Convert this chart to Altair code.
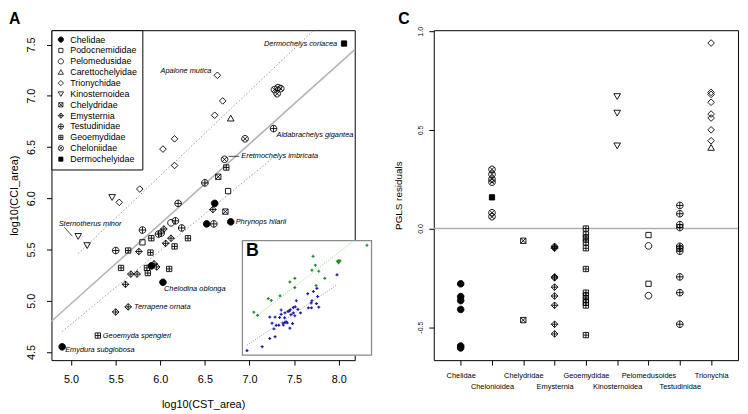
import altair as alt
import pandas as pd

FONT = "Liberation Sans"

families = ["Chelidae", "Podocnemididae", "Pelomedusidae", "Carettochelyidae",
            "Trionychidae", "Kinosternoidea", "Chelydridae", "Emysternia",
            "Testudinidae", "Geoemydidae", "Cheloniidae", "Dermochelyidae"]

# ---- Panel A: log10(CST_area) (x) vs log10(CCI_area) (y), per family
chelidae_x = [4.90, 5.90, 6.03, 6.61, 6.52, 6.79]
chelidae_y = [4.55, 5.34, 5.18, 5.95, 5.75, 5.77]
podocnemididae_x = [5.80, 6.76]
podocnemididae_y = [5.57, 6.07]
pelomedusidae_x = [6.12]
pelomedusidae_y = [5.76]
carettochelyidae_x = [6.79]
carettochelyidae_y = [6.78]
trionychidae_x = [5.54, 5.77, 6.16, 6.03, 6.16, 6.61, 6.70, 6.64]
trionychidae_y = [5.96, 6.09, 6.32, 6.48, 6.58, 6.81, 6.95, 7.20]
kinosternoidea_x = [5.46, 5.08, 5.18]
kinosternoidea_y = [6.01, 5.63, 5.54]
chelydridae_x = [6.73, 6.65]
chelydridae_y = [5.87, 6.21]
emysternia_x = [5.64, 5.50, 5.61, 5.67, 5.74, 5.93, 5.96, 5.76, 6.04, 6.12, 6.06, 6.59]
emysternia_y = [4.94, 4.89, 5.16, 5.26, 5.26, 5.36, 5.33, 5.48, 5.70, 5.61, 5.56, 5.89]
testudinidae_x = [5.50, 5.80, 5.98, 6.01, 6.17, 6.24, 6.20, 6.50, 7.27, 6.60]
testudinidae_y = [5.49, 5.69, 5.65, 5.66, 5.78, 5.71, 5.95, 6.15, 6.68, 5.75]
geoemydidae_x = [5.30, 5.56, 5.85, 5.86, 6.10, 5.64, 5.89, 5.90, 6.16, 6.31, 6.74]
geoemydidae_y = [4.66, 5.32, 5.32, 5.27, 5.31, 5.49, 5.47, 5.61, 5.53, 5.61, 6.30]
cheloniidae_x = [6.95, 6.72, 7.28, 7.32, 7.35, 7.31]
cheloniidae_y = [6.58, 6.38, 7.06, 7.08, 7.07, 7.02]
dermochelyidae_x = [8.06]
dermochelyidae_y = [7.51]

# families drawn in green in inset B (the rest are blue)
green_families = ["Carettochelyidae", "Trionychidae", "Kinosternoidea",
                  "Cheloniidae", "Dermochelyidae"]

# regression lines (end points, data units)
fit_all_x = [4.78, 8.18]
fit_all_y = [4.80, 7.45]
fit_green_x = [5.08, 7.72]
fit_green_y = [5.46, 7.64]
fit_blue_x = [4.90, 7.27]
fit_blue_y = [4.70, 6.40]

x_ticks = [5.0, 5.5, 6.0, 6.5, 7.0, 7.5, 8.0]
y_ticks = [4.5, 5.0, 5.5, 6.0, 6.5, 7.0, 7.5]

# species annotations
ann_names = ["Dermochelys coriacea", "Apalone mutica", "Aldabrachelys gigantea",
             "Eretmochelys imbricata", "Phrynops hilarii", "Chelodina oblonga",
             "Terrapene ornata", "Geoemyda spengleri", "Emydura subglobosa",
             "Sternotherus minor"]
ann_x = [8.06, 6.64, 7.27, 6.72, 6.79, 6.03, 5.64, 5.30, 4.90, 5.08]
ann_y = [7.51, 7.20, 6.68, 6.38, 5.77, 5.18, 4.94, 4.66, 4.55, 5.63]
ann_dx = [-7, -6, 3, 17, 5, 1, 6, 5, 3, 12]
ann_dy = [0, -4, 7, -3, 0, 7, 0, 0, 3, -12]
ann_align = ["right", "right", "left", "left", "left", "left", "left", "left", "left", "center"]

# ---- Panel C: PGLS residuals per clade
groups = ["Chelidae", "Chelonioidea", "Chelydridae", "Emysternia", "Geoemydidae",
          "Kinosternoidea", "Pelomedusoides", "Testudinidae", "Trionychia"]
res_chelidae = [-0.28, -0.345, -0.365, -0.41, -0.595, -0.605]
res_cheloniidae = [0.30, 0.275, 0.25, 0.235, 0.08, 0.06]
res_dermochelyidae = [0.158]
res_chelydridae = [-0.062, -0.464]
res_emysternia = [-0.09, -0.095, -0.10, -0.245, -0.25, -0.297, -0.342, -0.389, -0.485, -0.534]
res_geoemydidae = [0.0, -0.03, -0.05, -0.07, -0.10, -0.205, -0.325, -0.34, -0.36, -0.375, -0.39, -0.54]
res_kinosternoidea = [0.67, 0.586, 0.42]
res_podocnemididae = [-0.033, -0.28]
res_pelomedusidae = [-0.088, -0.34]
res_testudinidae = [0.117, 0.075, 0.02, 0.005, -0.09, -0.10, -0.115, -0.245, -0.325, -0.485]
res_trionychidae = [0.94, 0.69, 0.68, 0.64, 0.58, 0.56, 0.50, 0.445]
res_carettochelyidae = [0.41]
c_ticks = [-0.5, 0.0, 0.5, 1.0]

# ---- symbols (R-like pch)
CIRC = "M0,-1A1,1,0,1,1,0,1A1,1,0,1,1,0,-1Z"
SQ = "M-0.8,-0.8H0.8V0.8H-0.8Z"
DIA = "M0,-1L1,0L0,1L-1,0Z"
PLUS = "M-1,0H1M0,-1V1"
shape_paths = [
    CIRC,                                   # Chelidae (filled)
    SQ,                                     # Podocnemididae
    CIRC,                                   # Pelomedusidae
    "M0,-0.95L1,0.8L-1,0.8Z",               # Carettochelyidae
    DIA,                                    # Trionychidae
    "M-1,-0.8L1,-0.8L0,0.95Z",              # Kinosternoidea
    SQ + "M-0.8,-0.8L0.8,0.8M0.8,-0.8L-0.8,0.8",   # Chelydridae
    DIA + PLUS,                             # Emysternia
    CIRC + PLUS,                            # Testudinidae
    SQ + "M-0.8,0H0.8M0,-0.8V0.8",          # Geoemydidae
    CIRC + "M-0.7,-0.7L0.7,0.7M0.7,-0.7L-0.7,0.7",  # Cheloniidae
    SQ,                                     # Dermochelyidae (filled)
]
fill_colors = ["black" if f in ("Chelidae", "Dermochelyidae") else "transparent" for f in families]
stroke_colors = ["black"] * len(families)

fam_x = [chelidae_x, podocnemididae_x, pelomedusidae_x, carettochelyidae_x, trionychidae_x,
         kinosternoidea_x, chelydridae_x, emysternia_x, testudinidae_x, geoemydidae_x,
         cheloniidae_x, dermochelyidae_x]
fam_y = [chelidae_y, podocnemididae_y, pelomedusidae_y, carettochelyidae_y, trionychidae_y,
         kinosternoidea_y, chelydridae_y, emysternia_y, testudinidae_y, geoemydidae_y,
         cheloniidae_y, dermochelyidae_y]
rows = []
for fam, xs, ys in zip(families, fam_x, fam_y):
    for xv, yv in zip(xs, ys):
        rows.append({"family": fam, "x": xv, "y": yv, "green": fam in green_families})
a_df = pd.DataFrame(rows)

line_df = pd.DataFrame(
    [{"line": "all", "x": xv, "y": yv} for xv, yv in zip(fit_all_x, fit_all_y)]
    + [{"line": "green", "x": xv, "y": yv} for xv, yv in zip(fit_green_x, fit_green_y)]
    + [{"line": "blue", "x": xv, "y": yv} for xv, yv in zip(fit_blue_x, fit_blue_y)]
)

c_rows = []
def add(group, fam, vals):
    for v in vals:
        c_rows.append({"group": group, "family": fam, "res": v})
add("Chelidae", "Chelidae", res_chelidae)
add("Chelonioidea", "Cheloniidae", res_cheloniidae)
add("Chelonioidea", "Dermochelyidae", res_dermochelyidae)
add("Chelydridae", "Chelydridae", res_chelydridae)
add("Emysternia", "Emysternia", res_emysternia)
add("Geoemydidae", "Geoemydidae", res_geoemydidae)
add("Kinosternoidea", "Kinosternoidea", res_kinosternoidea)
add("Pelomedusoides", "Podocnemididae", res_podocnemididae)
add("Pelomedusoides", "Pelomedusidae", res_pelomedusidae)
add("Testudinidae", "Testudinidae", res_testudinidae)
add("Trionychia", "Trionychidae", res_trionychidae)
add("Trionychia", "Carettochelyidae", res_carettochelyidae)
c_df = pd.DataFrame(c_rows)

one = pd.DataFrame({"k": [0]})

# ---- layout
W_A, H_A = 307, 334
W_C, H_C = 308, 334
XD = [4.78, 8.18]
YD = [4.42, 7.64]

xA = alt.X("x:Q", scale=alt.Scale(domain=XD, nice=False, zero=False),
           axis=alt.Axis(values=x_ticks, format=".1f", labelFontSize=11, labelPadding=9,
                         title="log10(CST_area)", titleFontSize=11, titleX=W_A / 2, titleY=45,
                         titleBaseline="middle", titleAlign="center"))
yA = alt.Y("y:Q", scale=alt.Scale(domain=YD, nice=False, zero=False),
           axis=alt.Axis(values=y_ticks, format=".1f", labelFontSize=11, labelAngle=270,
                         labelAlign="center", labelBaseline="middle", labelPadding=15,
                         title="log10(CCI_area)", titleFontSize=11, titleAngle=270,
                         titleX=-37, titleY=H_A / 2, titleBaseline="middle", titleAlign="center"))

legend = alt.Legend(title=None, orient="top-left", offset=0, padding=5,
                    strokeColor="black", fillColor="white", cornerRadius=0,
                    labelFont=FONT, labelFontSize=9, labelColor="black",
                    symbolSize=28, symbolStrokeColor="black", symbolStrokeWidth=0.8,
                    rowPadding=1.0, labelOffset=5)

a_lines = alt.layer(
    alt.Chart(line_df).transform_filter("datum.line == 'all'")
    .mark_line(color="#b5b5b5", strokeWidth=1.6).encode(x=xA, y=yA),
    alt.Chart(line_df).transform_filter("datum.line != 'all'")
    .mark_line(color="#9a9a9a", strokeWidth=1, strokeDash=[1.5, 2])
    .encode(x=xA, y=yA, detail="line:N"),
)

a_points = alt.Chart(a_df).mark_point(size=45, strokeWidth=0.9, opacity=1).encode(
    x=xA, y=yA,
    shape=alt.Shape("family:N", scale=alt.Scale(domain=families, range=shape_paths), legend=legend),
    fill=alt.Fill("family:N", scale=alt.Scale(domain=families, range=fill_colors), legend=legend),
    stroke=alt.Stroke("family:N", scale=alt.Scale(domain=families, range=stroke_colors), legend=legend),
)

ann_layers = []
for name, ax, ay, dx, dy, al in zip(ann_names, ann_x, ann_y, ann_dx, ann_dy, ann_align):
    ann_layers.append(
        alt.Chart(pd.DataFrame({"x": [ax], "y": [ay], "t": [name]}))
        .mark_text(font=FONT, fontSize=7.5, fontStyle="italic", align=al, baseline="middle",
                   dx=dx, dy=dy, color="black")
        .encode(x=xA, y=yA, text="t:N")
    )

# leader lines
lead_df = pd.DataFrame({"x": [6.72], "y": [6.38]})
leader1 = alt.Chart(lead_df).mark_rule(color="black", strokeWidth=0.7, xOffset=4, x2Offset=15,
                                       yOffset=-3, y2Offset=-3).encode(x=xA, y=yA, x2="x:Q", y2="y:Q")
lead_df2 = pd.DataFrame({"x": [5.08], "y": [5.63]})
leader2 = alt.Chart(lead_df2).mark_rule(color="black", strokeWidth=0.7, xOffset=-14, x2Offset=-6,
                                        yOffset=-9, y2Offset=0).encode(x=xA, y=yA, x2="x:Q", y2="y:Q")

label_A = alt.Chart(one).mark_text(text="A", font=FONT, fontSize=16, fontWeight="bold",
                                   align="left", baseline="top", color="black").encode(
    x=alt.value(-43), y=alt.value(-19))

a_inner = alt.layer(a_lines, a_points, *ann_layers, leader1, leader2, label_A)

# ---- inset B (same data, smaller scales)
xB = alt.X("x:Q", scale=alt.Scale(domain=XD, nice=False, zero=False, range=[193.3, 324]), axis=None)
yB = alt.Y("y:Q", scale=alt.Scale(domain=YD, nice=False, zero=False, range=[329, 213]), axis=None)

b_box = alt.Chart(one).mark_rect(fill="white", stroke="#8a8a8a", strokeWidth=1.3).encode(
    x=alt.value(193.3), x2=alt.value(324), y=alt.value(213), y2=alt.value(329))
b_gline = alt.Chart(line_df).transform_filter("datum.line == 'green'").mark_line(
    color="#7fe07f", strokeWidth=1, strokeDash=[1, 1.5]).encode(x=xB, y=yB)
b_bline = alt.Chart(line_df).transform_filter("datum.line == 'blue'").mark_line(
    color="#8c8cff", strokeWidth=1, strokeDash=[1, 1.5]).encode(x=xB, y=yB)
b_gpts = alt.Chart(a_df).transform_filter("datum.green").mark_point(
    shape="cross", filled=True, size=9, color="#1f8a2a", opacity=1).encode(x=xB, y=yB)
b_bpts = alt.Chart(a_df).transform_filter("!datum.green").mark_point(
    shape="cross", filled=True, size=9, color="#1c1ca0", opacity=1).encode(x=xB, y=yB)
label_B = alt.Chart(one).mark_text(text="B", font=FONT, fontSize=18, fontWeight="bold",
                                   align="left", baseline="top", color="black").encode(
    x=alt.value(197), y=alt.value(215))
b_inner = alt.layer(b_box, b_bline, b_gline, b_bpts, b_gpts, label_B)

panel_a = alt.layer(a_inner, b_inner).resolve_scale(x="independent", y="independent").properties(
    width=W_A, height=H_A)

# ---- panel C
row2 = "['Chelonioidea','Emysternia','Kinosternoidea','Testudinidae']"
xC = alt.X("group:N", sort=groups, scale=alt.Scale(type="point", padding=0.86, domain=groups),
           axis=alt.Axis(title=None, labelAngle=0, labelFontSize=7.5, labelAlign="center",
                         labelBaseline="top",
                         labelPadding={"condition": {"test": "indexof(" + row2 + ", datum.value) >= 0",
                                                     "value": 17.5},
                                       "value": 6.5}))
yC = alt.Y("res:Q", scale=alt.Scale(domain=[-0.667, 1.005], nice=False, zero=False),
           axis=alt.Axis(values=c_ticks, labelExpr="replace(format(datum.value, '.1f'), '\u2212', '-')",
                         labelFontSize=7, labelAngle=270, labelAlign="center", labelBaseline="middle",
                         labelPadding=8, title="PGLS residuals", titleFontSize=10, titleAngle=270,
                         titleX=-36, titleY=H_C / 2, titleBaseline="middle", titleAlign="center"))

c_rule = alt.Chart(pd.DataFrame({"res": [0.0]})).mark_rule(color="#b0b0b0", strokeWidth=1.5).encode(y=yC)
c_points = alt.Chart(c_df).mark_point(size=45, stroke="black", strokeWidth=0.9, opacity=1).encode(
    x=xC, y=yC,
    shape=alt.Shape("family:N", scale=alt.Scale(domain=families, range=shape_paths), legend=None),
    fill=alt.Fill("family:N", scale=alt.Scale(domain=families, range=fill_colors), legend=None),
)
label_C = alt.Chart(one).mark_text(text="C", font=FONT, fontSize=16, fontWeight="bold",
                                   align="left", baseline="top", color="black").encode(
    x=alt.value(-36), y=alt.value(-19))
panel_c = alt.layer(c_rule, c_points, label_C).properties(width=W_C, height=H_C)

chart = alt.hconcat(panel_a, panel_c, spacing=80, bounds="flush").resolve_scale(
    shape="independent", fill="independent", stroke="independent").properties(padding=0).configure_view(
    stroke="black", strokeWidth=1).configure_axis(
    grid=False, domain=False, tickColor="black", tickSize=5, tickWidth=1,
    labelColor="black", titleColor="black", labelFont=FONT, titleFont=FONT,
    titleFontWeight="normal").configure_text(font=FONT)

chart.save("out.html", embed_options={"renderer": "svg", "actions": False})
